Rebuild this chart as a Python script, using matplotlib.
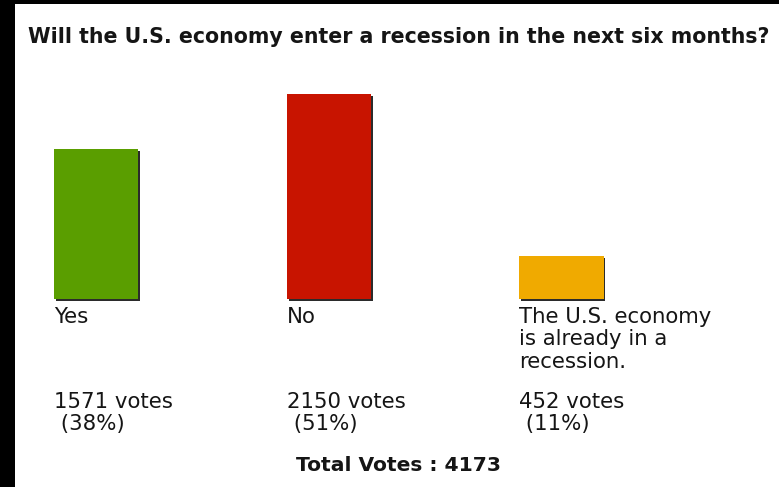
import matplotlib
matplotlib.use("Agg")
import matplotlib.pyplot as plt
from matplotlib.patches import Rectangle
import matplotlib.patheffects as pe
from matplotlib.transforms import blended_transform_factory

title = "Will the U.S. economy enter a recession in the next six months?"
categories = ["Yes", "No", "The U.S. economy\nis already in a\nrecession."]
votes = [1571, 2150, 452]
percents = [38, 51, 11]
bar_colors = ["#5a9e00", "#c81400", "#f0aa00"]

W, H, DPI = 779, 487, 100
plt.rcParams['font.family'] = ['DejaVu Sans']
fig = plt.figure(figsize=(W / DPI, H / DPI), dpi=DPI, facecolor="white")


def fx(px):
    return px / W


def fy(py):
    return 1 - py / H


# axes: bar baseline at 299 px from top, tallest bar 205 px
ax = fig.add_axes([0, fy(299), 1, 205 / H])
ax.set_xlim(-0.4125, 2.9345)
ax.set_ylim(0, max(votes))
ax.axis('off')
width = 0.361
xs = list(range(len(votes)))
bars = ax.bar(xs, votes, width=width, color=bar_colors, linewidth=0)
for b in bars:
    b.set_clip_on(False)
    b.set_path_effects([
        pe.SimplePatchShadow(offset=(1.3, -1.3), shadow_rgbFace="#2b2b2b", alpha=1.0),
        pe.Normal(),
    ])

trans = blended_transform_factory(ax.transData, fig.transFigure)
txt_color = "#151515"
for i, (cat, v, p) in enumerate(zip(categories, votes, percents)):
    left = xs[i] - width / 2
    ax.text(left, fy(307), cat, transform=trans, ha='left', va='top',
            fontsize=15.3, linespacing=1.15, color=txt_color)
    ax.text(left, fy(392), f"{v} votes\n ({p}%)", transform=trans,
            ha='left', va='top', fontsize=15.3, linespacing=1.1, color=txt_color)

fig.text(fx(28), fy(43), title, ha='left', va='baseline', fontsize=14.8,
         fontweight='bold', color=txt_color)
fig.text(fx(399), fy(471), f"Total Votes : {sum(votes)}", ha='center',
         va='baseline', fontsize=14.6, fontweight='bold', color=txt_color)

# black screen border at left and top
fig.patches.append(Rectangle((0, 0), fx(15), 1, transform=fig.transFigure,
                             facecolor='black', edgecolor='none', zorder=10))
fig.patches.append(Rectangle((0, fy(4)), 1, 4 / H, transform=fig.transFigure,
                             facecolor='black', edgecolor='none', zorder=10))

fig.savefig("out.png", dpi=DPI, facecolor="white")
